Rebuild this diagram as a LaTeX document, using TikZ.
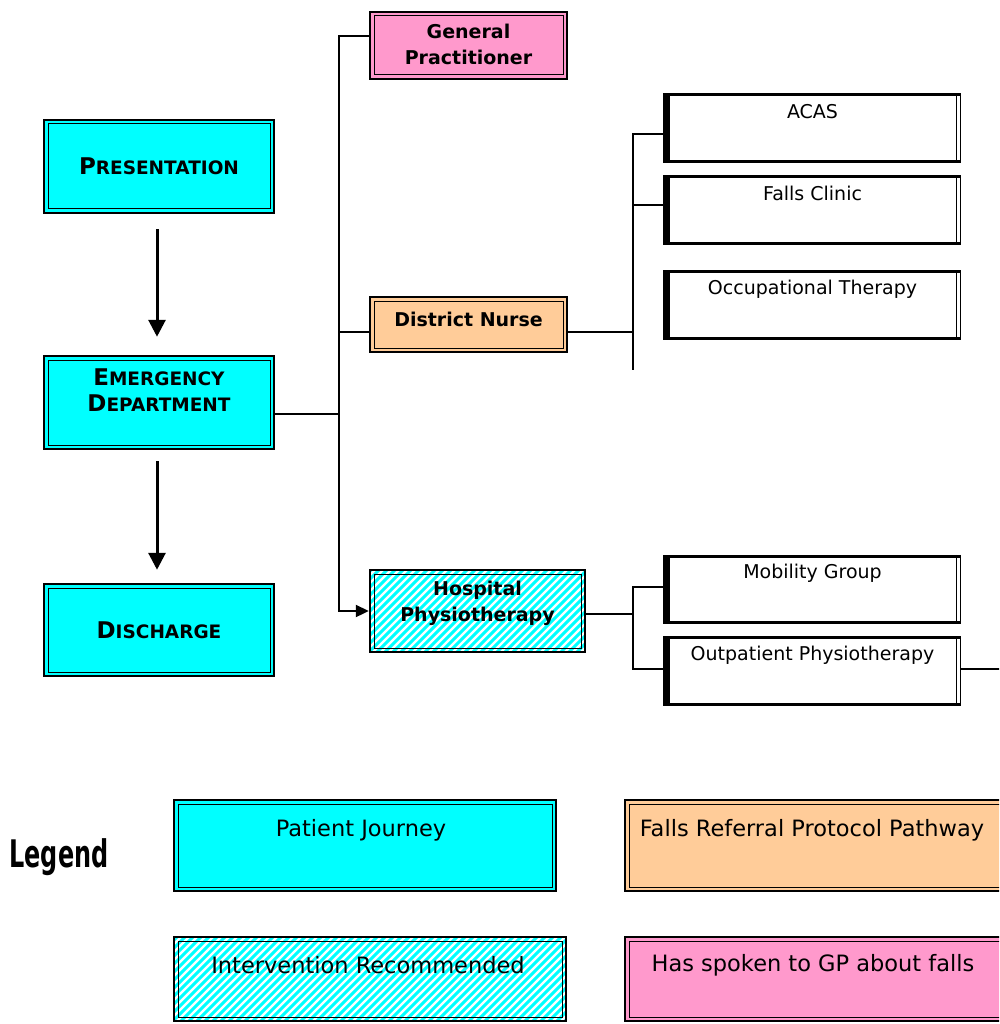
\documentclass[tikz,border=0pt]{standalone}
\usepackage{fontspec}
\setmainfont{DejaVu Sans}
\usetikzlibrary{arrows.meta,calc}
\definecolor{jcyan}{HTML}{00FFFF}
\definecolor{gppink}{HTML}{FF99CC}
\definecolor{dnpeach}{HTML}{FFCC99}

% large initial capital followed by smaller capitals
\newcommand\bigsmall[2]{{\fontsize{23}{26}\selectfont #1}{\fontsize{18.5}{26}\selectfont #2}}

% thin inner frame, 4pt inside the outer border
\newcommand\innerframe{\draw[line width=1pt]
  ([shift={(4pt,4pt)}]path picture bounding box.south west) rectangle
  ([shift={(-4pt,-4pt)}]path picture bounding box.north east);}

\tikzset{
  dblbox/.style={draw, line width=2.5pt, inner sep=0pt, path picture={\innerframe}},
  journey/.style={dblbox, fill=jcyan},
  gpbox/.style={dblbox, fill=gppink},
  dnbox/.style={dblbox, fill=dnpeach},
  hatched/.style={draw, line width=2.5pt, inner sep=0pt, fill=white,
    path picture={
      \foreach \k in {0,8,...,520}
        \draw[jcyan, line width=3pt]
          ([xshift=\k pt-110pt, yshift=-5pt]path picture bounding box.south west) -- ++(115pt,115pt);
      \innerframe}},
  sidebox/.style={inner sep=0pt, minimum width=295pt, minimum height=66pt, fill=white},
  sidetext/.style={font=\fontsize{19}{22}\selectfont},
  captext/.style={font=\bfseries\fontsize{18.5}{26}\selectfont, align=center},
  boxtext/.style={font=\bfseries\fontsize{19}{26}\selectfont, align=center},
  legtext/.style={font=\fontsize{22.5}{26}\selectfont},
  conn/.style={line width=2.3pt},
  bigarrow/.style={line width=3pt, -{Triangle[length=17pt,width=17pt]}},
}

\newcommand\sidebox[4]{%
  \node[sidebox] (#1) at (#2,#3) {};
  \draw[line width=3pt, line join=miter] (#1.north east) -- (#1.north west) -- (#1.south west) -- (#1.south east);
  \draw[line width=5pt] ([xshift=2.5pt]#1.north west) -- ([xshift=2.5pt]#1.south west);
  \draw[line width=1pt] ([yshift=1.5pt]#1.north east) -- ([yshift=-1.5pt]#1.south east)
    ([shift={(-4pt,1.5pt)}]#1.north east) -- ([shift={(-4pt,-1.5pt)}]#1.south east);
  \node[sidetext] at ([yshift=-17pt]#1.north) {#4};
}

\begin{document}
\begin{tikzpicture}[x=1pt,y=-1pt]
\path[use as bounding box, fill=white] (0,0) rectangle (999,1024);
\clip (0,0) rectangle (999,1024);

% patient journey
\node[journey, minimum width=230pt, minimum height=93pt] (pres) at (159,166.5) {};
\node[captext] at (pres.center) {\bigsmall{P}{RESENTATION}};
\node[journey, minimum width=230pt, minimum height=93pt] (ed) at (159,402.5) {};
\node[captext] at ([yshift=-35pt]ed.north) {\bigsmall{E}{MERGENCY}\\\bigsmall{D}{EPARTMENT}};
\node[journey, minimum width=230pt, minimum height=92pt] (dis) at (159,630) {};
\node[captext] at (dis.center) {\bigsmall{D}{ISCHARGE}};

\draw[bigarrow, shorten <=15pt, shorten >=18pt] ([xshift=-2pt]pres.south) -- ([xshift=-2pt]ed.north);
\draw[bigarrow, shorten <=11pt, shorten >=13pt] ([xshift=-2pt]ed.south) -- ([xshift=-2pt]dis.north);

% referral pathways
\node[gpbox, minimum width=197pt, minimum height=67pt] (gp) at (468.5,45.5) {};
\node[boxtext] at ([yshift=1.5pt]gp.center) {General\\Practitioner};
\node[dnbox, minimum width=197pt, minimum height=55pt] (dn) at (468.5,324.5) {};
\node[boxtext] at ([yshift=5pt]dn.center) {District Nurse};
\node[hatched, minimum width=215pt, minimum height=82pt] (hp) at (477.5,611) {};
\node[boxtext] at ([yshift=7.5pt]hp.center) {Hospital\\Physiotherapy};

\sidebox{acas}{812.5}{128}{ACAS}
\sidebox{falls}{812.5}{210}{Falls Clinic}
\sidebox{ot}{812.5}{305}{Occupational Therapy}
\sidebox{mob}{812.5}{589.5}{Mobility Group}
\sidebox{outp}{812.5}{671}{Outpatient Physiotherapy}

% connectors
\coordinate (busA) at (339,414);
\coordinate (busB) at (633,370);
\coordinate (busC) at (633,614);
\coordinate (farright) at (1000,669);
\draw[conn] ([yshift=-11.5pt]ed.east) -- (busA);
\draw[conn] ([yshift=9.5pt]gp.west) -| (busA);
\draw[conn] ([yshift=-7.5pt]dn.west) -- ([yshift=-7.5pt]dn.west -| busA);
\draw[conn, -{Triangle[length=13pt,width=12pt]}] (busA) |- (hp.west);

\draw[conn] ([yshift=-6pt]acas.west) -| (busB);
\draw[conn] ([yshift=5pt]falls.west) -- ([yshift=5pt]falls.west -| busB);
\draw[conn] ([yshift=-7.5pt]dn.east) -- ([yshift=-7.5pt]dn.east -| busB);

\draw[conn] ([yshift=-3pt]hp.east) -- (busC);
\draw[conn] ([yshift=2.5pt]mob.west) -| (busC) |- ([yshift=2pt]outp.west);
\draw[conn] ([yshift=2pt]outp.east) -- (farright);

% legend
\node (legend) at (59,857) {\scalebox{0.63}[1]{\bfseries\fontsize{38}{40}\selectfont Legend}};
\node[journey, minimum width=382pt, minimum height=91pt] (lpj) at (365,845.5) {};
\node[legtext] at (361,830) {Patient Journey};
\node[dnbox, minimum width=385pt, minimum height=91pt] (lfr) at (817.5,845.5) {};
\node[legtext] at (812,830) {Falls Referral Protocol Pathway};
\node[hatched, minimum width=392pt, minimum height=84pt] (lir) at (370,979) {};
\node[legtext] at (368,965) {Intervention Recommended};
\node[gpbox, minimum width=385pt, minimum height=84pt] (lgp) at (817.5,979) {};
\node[legtext] at (813,965) {Has spoken to GP about falls};
\end{tikzpicture}
\end{document}
